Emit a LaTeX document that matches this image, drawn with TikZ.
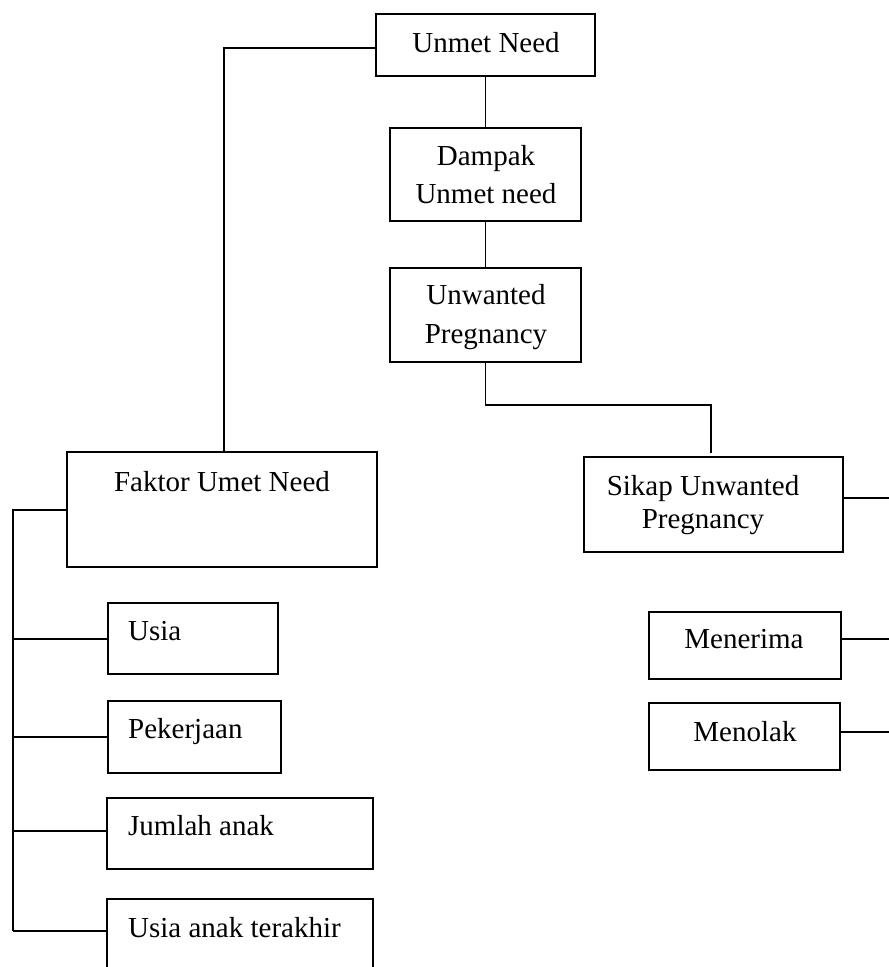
\documentclass[tikz,border=0pt]{standalone}
\usepackage{fontspec}
\setmainfont{Liberation Serif}
\begin{document}
\begin{tikzpicture}[x=1pt,y=-1pt,
  box/.style={draw,line width=1.8pt,minimum width=#1,inner sep=0pt,outer sep=0pt,anchor=north west},
  txt/.style={inner sep=0pt,anchor=base,font=\fontsize{29}{34}\selectfont},
  txtl/.style={inner sep=0pt,anchor=base west,font=\fontsize{29}{34}\selectfont},
  link/.style={line width=1.8pt}]
\useasboundingbox[fill=white] (0,0) rectangle (889,967);
% boxes (top-left corners)
\node[box=219pt,minimum height=62pt] (unmet) at (376,14) {};
\node[box=191pt,minimum height=93pt] (dampak) at (390,128) {};
\node[box=191pt,minimum height=94pt] (unwanted) at (390,268) {};
\node[box=310pt,minimum height=115pt] (faktor) at (67,452) {};
\node[box=259pt,minimum height=95pt] (sikap) at (584,457) {};
\node[box=192pt,minimum height=67pt] (menerima) at (649,612) {};
\node[box=191pt,minimum height=67pt] (menolak) at (649,703) {};
\node[box=170pt,minimum height=71pt] (usia) at (108,603) {};
\node[box=173pt,minimum height=72pt] (pekerjaan) at (108,701) {};
\node[box=266pt,minimum height=71pt] (jumlah) at (107,798) {};
\node[box=266pt,minimum height=110pt] (terakhir) at (107,899) {};
% texts
\node[txt] (t1) at (486,52) {Unmet Need};
\node[txt] (t2a) at (486,165) {Dampak};
\node[txt] (t2b) at (486,203) {Unmet need};
\node[txt] (t3a) at (486,304) {Unwanted};
\node[txt] (t3b) at (486,343) {Pregnancy};
\node[txt] (t4) at (222,491) {Faktor Umet Need};
\node[txt] (t5a) at (703,495) {Sikap Unwanted};
\node[txt] (t5b) at (703,528) {Pregnancy};
\node[txt] (t6) at (744,648) {Menerima};
\node[txt] (t7) at (745,741) {Menolak};
\node[txtl] (t8) at (128,640) {Usia};
\node[txtl] (t9) at (128,738) {Pekerjaan};
\node[txtl] (t10) at (128,835) {Jumlah anak};
\node[txtl] (t11) at (128,937) {Usia anak terakhir};
% helper coordinates
\coordinate (ul) at (224,48);
\coordinate (ur) at (711,405);
\coordinate (ub) at (unwanted.south |- ur);
\coordinate (e1) at (889,498);
\coordinate (e2) at (889,639);
\coordinate (e3) at (889,732);
\coordinate (fl) at (13,510);
\coordinate (b1) at (13,639);
\coordinate (b2) at (13,737);
\coordinate (b3) at (13,831);
\coordinate (b4) at (13,931);
% connectors
\draw[link] (ul -| unmet.west) -- (ul) -- (ul |- faktor.north);
\draw[link] (unmet.south) -- (dampak.north);
\draw[link] (dampak.south) -- (unwanted.north);
\draw[link] (unwanted.south) -- (ub) -- (ur) -- ([yshift=4pt]ur |- sikap.north);
\draw[link] (e1 -| sikap.east) -- (e1);
\draw[link] (e2 -| menerima.east) -- (e2);
\draw[link] (e3 -| menolak.east) -- (e3);
\draw[link] (fl -| faktor.west) -- (fl) -- (b4);
\draw[link] (b1) -- (b1 -| usia.west);
\draw[link] (b2) -- (b2 -| pekerjaan.west);
\draw[link] (b3) -- (b3 -| jumlah.west);
\draw[link] (b4) -- (b4 -| terakhir.west);
\end{tikzpicture}
\end{document}
